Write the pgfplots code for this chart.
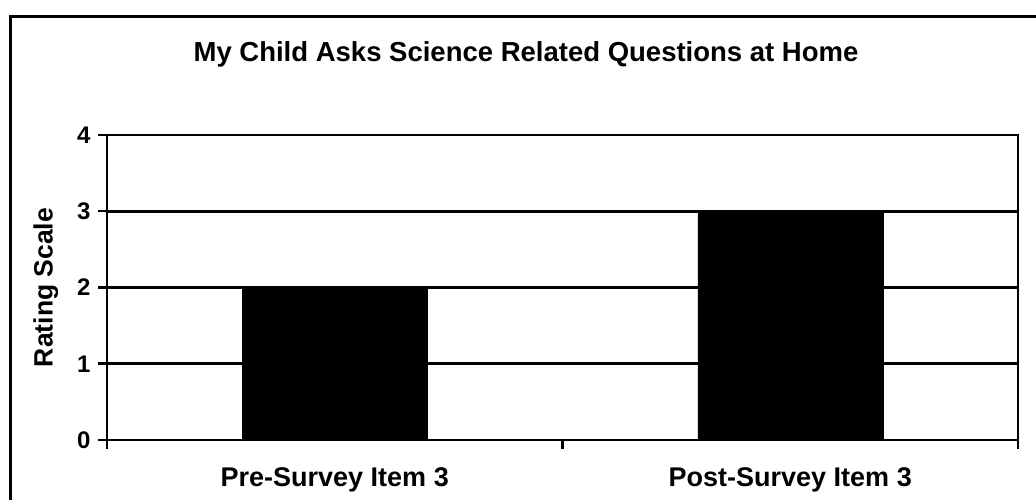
\documentclass[border=0pt]{standalone}
\usepackage{pgfplots}
\pgfplotsset{compat=1.18}
\usepackage{fontspec}
\setmainfont{Liberation Sans}
\begin{document}
\begin{tikzpicture}[x=1pt,y=1pt]
\useasboundingbox (0,0) rectangle (1036,500);
\clip (0,0) rectangle (1036,500);
\draw[line width=3pt] (10,-20) -- (10,483) -- (1060,483);
\node[font=\bfseries\fontsize{27.5}{32}\selectfont] at (526,446) {My Child Asks Science Related Questions at Home};
\begin{axis}[
  at={(107pt,60pt)}, anchor=south west,
  scale only axis, width=911pt, height=305pt,
  xmin=-0.5, xmax=1.5, ymin=0, ymax=4,
  ybar, bar width=185pt,
  axis line style={line width=2.8pt},
  ymajorgrids, grid style={line width=2.8pt, black},
  ytick={0,1,2,3,4},
  xtick={-0.5,0.5,1.5}, xticklabels={},
  extra x ticks={0,1},
  extra x tick labels={Pre-Survey Item 3, Post-Survey Item 3},
  extra x tick style={major tick length=0pt, grid=none},
  xtick pos=bottom, ytick pos=left,
  tick align=outside, major tick length=9pt,
  tick style={line width=2.5pt, black},
  ticklabel style={font=\bfseries\fontsize{24}{28}\selectfont},
  /pgf/number format/assume math mode=true,
  xticklabel style={yshift=-24pt, font=\bfseries\fontsize{27}{30}\selectfont},
  yticklabel style={xshift=-4pt},
  ylabel={Rating Scale},
  ylabel style={font=\bfseries\fontsize{26.5}{30}\selectfont, yshift=12pt},
  enlargelimits=false,
]
\addplot[fill=black, draw=black] coordinates {(0,2) (1,3)};
\end{axis}
\end{tikzpicture}
\end{document}
